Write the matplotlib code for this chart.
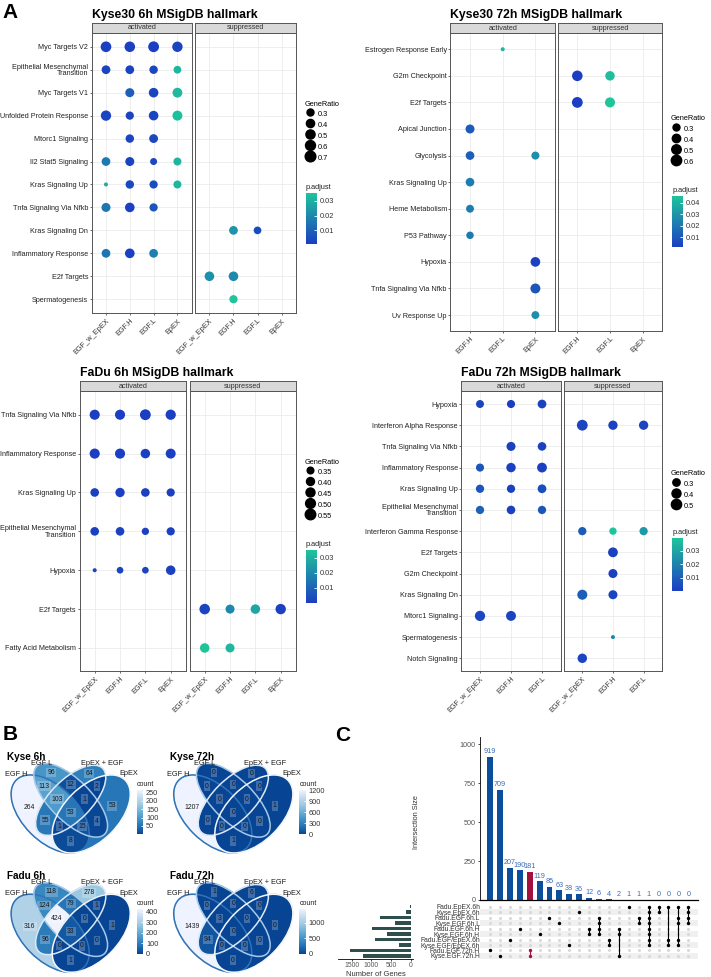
import numpy as np
import matplotlib
matplotlib.use("Agg")
import matplotlib.pyplot as plt
from matplotlib.colors import LinearSegmentedColormap, Normalize
from matplotlib.cm import ScalarMappable
from matplotlib.lines import Line2D
from matplotlib.patches import Ellipse

plt.rcParams['font.family'] = ['Liberation Sans', 'DejaVu Sans']

# ---------------- A: hallmark enrichment dot plots ----------------
# hits: (term, group, direction, GeneRatio, p.adjust)
k6_terms = ["Myc Targets V2", "Epithelial Mesenchymal\nTransition", "Myc Targets V1",
            "Unfolded Protein Response", "Mtorc1 Signaling", "Il2 Stat5 Signaling",
            "Kras Signaling Up", "Tnfa Signaling Via Nfkb", "Kras Signaling Dn",
            "Inflammatory Response", "E2f Targets", "Spermatogenesis"]
k6_groups = ["EGF_w_EpEX", "EGF.H", "EGF.L", "EpEX"]
k6_hits = [
    ("Myc Targets V2", "EGF_w_EpEX", "activated", 0.70, 0.001),
    ("Myc Targets V2", "EGF.H", "activated", 0.68, 0.001),
    ("Myc Targets V2", "EGF.L", "activated", 0.72, 0.0004),
    ("Myc Targets V2", "EpEX", "activated", 0.66, 0.002),
    ("Epithelial Mesenchymal\nTransition", "EGF_w_EpEX", "activated", 0.45, 0.002),
    ("Epithelial Mesenchymal\nTransition", "EGF.H", "activated", 0.45, 0.002),
    ("Epithelial Mesenchymal\nTransition", "EGF.L", "activated", 0.42, 0.003),
    ("Epithelial Mesenchymal\nTransition", "EpEX", "activated", 0.36, 0.032),
    ("Myc Targets V1", "EGF.H", "activated", 0.48, 0.009),
    ("Myc Targets V1", "EGF.L", "activated", 0.55, 0.002),
    ("Myc Targets V1", "EpEX", "activated", 0.58, 0.033),
    ("Unfolded Protein Response", "EGF_w_EpEX", "activated", 0.65, 0.002),
    ("Unfolded Protein Response", "EGF.H", "activated", 0.40, 0.002),
    ("Unfolded Protein Response", "EGF.L", "activated", 0.55, 0.002),
    ("Unfolded Protein Response", "EpEX", "activated", 0.60, 0.034),
    ("Mtorc1 Signaling", "EGF.H", "activated", 0.42, 0.002),
    ("Mtorc1 Signaling", "EGF.L", "activated", 0.46, 0.003),
    ("Il2 Stat5 Signaling", "EGF_w_EpEX", "activated", 0.45, 0.016),
    ("Il2 Stat5 Signaling", "EGF.H", "activated", 0.48, 0.002),
    ("Il2 Stat5 Signaling", "EGF.L", "activated", 0.30, 0.003),
    ("Il2 Stat5 Signaling", "EpEX", "activated", 0.38, 0.032),
    ("Kras Signaling Up", "EGF_w_EpEX", "activated", 0.20, 0.030),
    ("Kras Signaling Up", "EGF.H", "activated", 0.42, 0.003),
    ("Kras Signaling Up", "EGF.L", "activated", 0.40, 0.004),
    ("Kras Signaling Up", "EpEX", "activated", 0.38, 0.032),
    ("Tnfa Signaling Via Nfkb", "EGF_w_EpEX", "activated", 0.48, 0.015),
    ("Tnfa Signaling Via Nfkb", "EGF.H", "activated", 0.55, 0.001),
    ("Tnfa Signaling Via Nfkb", "EGF.L", "activated", 0.40, 0.006),
    ("Kras Signaling Dn", "EGF.H", "suppressed", 0.45, 0.023),
    ("Kras Signaling Dn", "EGF.L", "suppressed", 0.35, 0.004),
    ("Inflammatory Response", "EGF_w_EpEX", "activated", 0.45, 0.015),
    ("Inflammatory Response", "EGF.H", "activated", 0.56, 0.001),
    ("Inflammatory Response", "EGF.L", "activated", 0.45, 0.018),
    ("E2f Targets", "EGF_w_EpEX", "suppressed", 0.55, 0.022),
    ("E2f Targets", "EGF.H", "suppressed", 0.55, 0.020),
    ("Spermatogenesis", "EGF.H", "suppressed", 0.40, 0.0357),
]
k6_size_breaks = ["0.3", "0.4", "0.5", "0.6", "0.7"]
k6_p_ticks = [0.01, 0.02, 0.03]

k72_terms = ["Estrogen Response Early", "G2m Checkpoint", "E2f Targets", "Apical Junction",
             "Glycolysis", "Kras Signaling Up", "Heme Metabolism", "P53 Pathway", "Hypoxia",
             "Tnfa Signaling Via Nfkb", "Uv Response Up"]
k72_groups = ["EGF.H", "EGF.L", "EpEX"]
k72_hits = [
    ("Estrogen Response Early", "EGF.L", "activated", 0.22, 0.042),
    ("G2m Checkpoint", "EGF.H", "suppressed", 0.62, 0.001),
    ("G2m Checkpoint", "EGF.L", "suppressed", 0.50, 0.044),
    ("E2f Targets", "EGF.H", "suppressed", 0.65, 0.0012),
    ("E2f Targets", "EGF.L", "suppressed", 0.56, 0.046),
    ("Apical Junction", "EGF.H", "activated", 0.45, 0.011),
    ("Glycolysis", "EGF.H", "activated", 0.42, 0.012),
    ("Glycolysis", "EpEX", "activated", 0.37, 0.028),
    ("Kras Signaling Up", "EGF.H", "activated", 0.42, 0.022),
    ("Heme Metabolism", "EGF.H", "activated", 0.36, 0.022),
    ("P53 Pathway", "EGF.H", "activated", 0.33, 0.021),
    ("Hypoxia", "EpEX", "activated", 0.52, 0.002),
    ("Tnfa Signaling Via Nfkb", "EpEX", "activated", 0.55, 0.009),
    ("Uv Response Up", "EpEX", "activated", 0.36, 0.028),
]
k72_size_breaks = ["0.3", "0.4", "0.5", "0.6"]
k72_p_ticks = [0.01, 0.02, 0.03, 0.04]

f6_terms = ["Tnfa Signaling Via Nfkb", "Inflammatory Response", "Kras Signaling Up",
            "Epithelial Mesenchymal\nTransition", "Hypoxia", "E2f Targets", "Fatty Acid Metabolism"]
f6_groups = ["EGF_w_EpEX", "EGF.H", "EGF.L", "EpEX"]
f6_hits = [
    ("Tnfa Signaling Via Nfkb", "EGF_w_EpEX", "activated", 0.52, 0.0003),
    ("Tnfa Signaling Via Nfkb", "EGF.H", "activated", 0.52, 0.0004),
    ("Tnfa Signaling Via Nfkb", "EGF.L", "activated", 0.57, 0.0002),
    ("Tnfa Signaling Via Nfkb", "EpEX", "activated", 0.53, 0.0005),
    ("Inflammatory Response", "EGF_w_EpEX", "activated", 0.52, 0.0005),
    ("Inflammatory Response", "EGF.H", "activated", 0.52, 0.0005),
    ("Inflammatory Response", "EGF.L", "activated", 0.48, 0.0008),
    ("Inflammatory Response", "EpEX", "activated", 0.51, 0.0006),
    ("Kras Signaling Up", "EGF_w_EpEX", "activated", 0.43, 0.001),
    ("Kras Signaling Up", "EGF.H", "activated", 0.47, 0.0008),
    ("Kras Signaling Up", "EGF.L", "activated", 0.43, 0.001),
    ("Kras Signaling Up", "EpEX", "activated", 0.41, 0.001),
    ("Epithelial Mesenchymal\nTransition", "EGF_w_EpEX", "activated", 0.43, 0.001),
    ("Epithelial Mesenchymal\nTransition", "EGF.H", "activated", 0.43, 0.001),
    ("Epithelial Mesenchymal\nTransition", "EGF.L", "activated", 0.37, 0.001),
    ("Epithelial Mesenchymal\nTransition", "EpEX", "activated", 0.41, 0.001),
    ("Hypoxia", "EGF_w_EpEX", "activated", 0.31, 0.002),
    ("Hypoxia", "EGF.H", "activated", 0.35, 0.002),
    ("Hypoxia", "EGF.L", "activated", 0.35, 0.002),
    ("Hypoxia", "EpEX", "activated", 0.48, 0.001),
    ("E2f Targets", "EGF_w_EpEX", "suppressed", 0.55, 0.002),
    ("E2f Targets", "EGF.H", "suppressed", 0.45, 0.019),
    ("E2f Targets", "EGF.L", "suppressed", 0.48, 0.027),
    ("E2f Targets", "EpEX", "suppressed", 0.54, 0.001),
    ("Fatty Acid Metabolism", "EGF_w_EpEX", "suppressed", 0.48, 0.035),
    ("Fatty Acid Metabolism", "EGF.H", "suppressed", 0.45, 0.032),
]
f6_size_breaks = ["0.35", "0.40", "0.45", "0.50", "0.55"]
f6_p_ticks = [0.01, 0.02, 0.03]

f72_terms = ["Hypoxia", "Interferon Alpha Response", "Tnfa Signaling Via Nfkb",
             "Inflammatory Response", "Kras Signaling Up", "Epithelial Mesenchymal\nTransition",
             "Interferon Gamma Response", "E2f Targets", "G2m Checkpoint", "Kras Signaling Dn",
             "Mtorc1 Signaling", "Spermatogenesis", "Notch Signaling"]
f72_groups = ["EGF_w_EpEX", "EGF.H", "EGF.L"]
f72_hits = [
    ("Hypoxia", "EGF_w_EpEX", "activated", 0.33, 0.002),
    ("Hypoxia", "EGF.H", "activated", 0.34, 0.0002),
    ("Hypoxia", "EGF.L", "activated", 0.38, 0.001),
    ("Interferon Alpha Response", "EGF_w_EpEX", "suppressed", 0.55, 0.002),
    ("Interferon Alpha Response", "EGF.H", "suppressed", 0.42, 0.001),
    ("Interferon Alpha Response", "EGF.L", "suppressed", 0.42, 0.002),
    ("Tnfa Signaling Via Nfkb", "EGF.H", "activated", 0.40, 0.001),
    ("Tnfa Signaling Via Nfkb", "EGF.L", "activated", 0.37, 0.001),
    ("Inflammatory Response", "EGF_w_EpEX", "activated", 0.34, 0.007),
    ("Inflammatory Response", "EGF.H", "activated", 0.43, 0.001),
    ("Inflammatory Response", "EGF.L", "activated", 0.46, 0.001),
    ("Kras Signaling Up", "EGF_w_EpEX", "activated", 0.35, 0.007),
    ("Kras Signaling Up", "EGF.H", "activated", 0.35, 0.001),
    ("Kras Signaling Up", "EGF.L", "activated", 0.38, 0.005),
    ("Epithelial Mesenchymal\nTransition", "EGF_w_EpEX", "activated", 0.35, 0.011),
    ("Epithelial Mesenchymal\nTransition", "EGF.H", "activated", 0.37, 0.001),
    ("Epithelial Mesenchymal\nTransition", "EGF.L", "activated", 0.35, 0.007),
    ("Interferon Gamma Response", "EGF_w_EpEX", "suppressed", 0.35, 0.009),
    ("Interferon Gamma Response", "EGF.H", "suppressed", 0.30, 0.0395),
    ("Interferon Gamma Response", "EGF.L", "suppressed", 0.35, 0.027),
    ("E2f Targets", "EGF.H", "suppressed", 0.46, 0.001),
    ("G2m Checkpoint", "EGF.H", "suppressed", 0.40, 0.001),
    ("Kras Signaling Dn", "EGF_w_EpEX", "suppressed", 0.48, 0.010),
    ("Kras Signaling Dn", "EGF.H", "suppressed", 0.40, 0.002),
    ("Mtorc1 Signaling", "EGF_w_EpEX", "activated", 0.50, 0.003),
    ("Mtorc1 Signaling", "EGF.H", "activated", 0.47, 0.002),
    ("Spermatogenesis", "EGF.H", "suppressed", 0.22, 0.022),
    ("Notch Signaling", "EGF_w_EpEX", "suppressed", 0.43, 0.002),
]
f72_size_breaks = ["0.3", "0.4", "0.5"]
f72_p_ticks = [0.01, 0.02, 0.03]

# ---------------- B: Venn counts ----------------
venn_sets = ["EGF H", "EGF L", "EpEX + EGF", "EpEX"]
venn_regions = ["A", "B", "C", "D", "AB", "AC", "AD", "BC", "BD", "CD",
                "ABC", "ABD", "ACD", "BCD", "ABCD"]
kyse_6h_counts = [264, 96, 64, 53, 113, 55, 8, 12, 4, 2, 103, 15, 1, 1, 53]
kyse_72h_counts = [1207, 0, 0, 1, 0, 0, 1, 0, 0, 0, 0, 0, 0, 0, 0]
fadu_6h_counts = [316, 118, 278, 1, 124, 96, 1, 79, 0, 1, 424, 0, 0, 0, 33]
fadu_72h_counts = [1439, 1, 6, 0, 0, 94, 0, 0, 0, 0, 3, 0, 0, 0, 0]
kyse_6h_ticks = [50, 100, 150, 200, 250]
kyse_72h_ticks = [0, 300, 600, 900, 1200]
fadu_6h_ticks = [0, 100, 200, 300, 400]
fadu_72h_ticks = [0, 500, 1000]

# ---------------- C: UpSet ----------------
upset_sets = ["Fadu.EpEX.6h", "Kyse.EpEX.6h", "Fadu.EGF.6h.L", "Kyse.EGF.6h.L",
              "Fadu.EGF.6h.H", "Kyse.EGF.6h.H", "Fadu.EGF/EpEX.6h", "Kyse.EGF/EpEX.6h",
              "Fadu.EGF.72h.H", "Kyse.EGF.72h.H"]
upset_set_sizes = [36, 137, 778, 397, 994, 612, 911, 291, 1536, 1208]
upset_sizes = [919, 709, 207, 190, 181, 119, 85, 63, 38, 36, 12, 6, 4, 2, 1, 1, 1, 0, 0, 0, 0]
upset_members = [[8], [9], [6], [4], [8, 9], [5], [2], [3], [7], [1], [4, 5], [2, 3, 4, 5],
                 [6, 7], [4, 5, 9], [0], [2, 3], [0, 1, 2, 3, 4, 5, 6, 7], [0, 1], [0, 6, 7],
                 [0, 2, 3, 6, 7], [0, 1, 2, 3]]
upset_highlight = 4

# ================= drawing =================
W, H = 711, 977
fig = plt.figure(figsize=(W / 100, H / 100), dpi=100)


def add_ax(x0, y0, x1, y1):
    return fig.add_axes([x0 / W, 1 - y1 / H, (x1 - x0) / W, (y1 - y0) / H])


def ftext(x, y, s, **kw):
    return fig.text(x / W, 1 - y / H, s, **kw)


padj_cmap = LinearSegmentedColormap.from_list("padj", ["#1B3EC2", "#1FC49B"])


def dot_px(v, lo, hi):
    t = np.clip((np.asarray(v, float) - lo) / (hi - lo), 0, 1)
    return 4.05 + 6.75 * np.sqrt(t)


def dotplot(title, terms, groups, hits, size_breaks, p_ticks, lay):
    (xa0, xa1, xs0, xs1, ystrip, ytop, ybot, lx, ly, cx, cy0, cy1) = lay
    ratios = [h[3] for h in hits]
    pvals = [h[4] for h in hits]
    lo, hi = min(ratios), max(ratios)
    norm = Normalize(min(pvals), max(pvals))
    for facet, (x0, x1) in zip(["activated", "suppressed"], [(xa0, xa1), (xs0, xs1)]):
        ax = add_ax(x0, ytop, x1, ybot)
        sub = [h for h in hits if h[2] == facet]
        if sub:
            ax.scatter([groups.index(h[1]) for h in sub], [terms.index(h[0]) for h in sub],
                       s=(dot_px([h[3] for h in sub], lo, hi) * 0.72) ** 2,
                       c=[h[4] for h in sub], cmap=padj_cmap, norm=norm,
                       linewidths=0, zorder=3)
        ax.set_xlim(-0.6, len(groups) - 0.4)
        ax.set_ylim(len(terms) - 0.4, -0.6)
        ax.set_xticks(range(len(groups)))
        ax.set_xticklabels(groups, rotation=45, ha='right', rotation_mode='anchor',
                           fontsize=5.3, color='#333333')
        ax.set_yticks(range(len(terms)))
        if facet == "activated":
            ax.set_yticklabels(terms, fontsize=5.2, color='#222222', linespacing=0.9)
            ax.tick_params(axis='y', length=1.6, width=0.5, color='#333333', pad=1)
        else:
            ax.set_yticklabels([])
            ax.tick_params(axis='y', length=0)
        ax.tick_params(axis='x', length=1.6, width=0.5, color='#333333', pad=1.5)
        ax.grid(True, color='#EBEBEB', lw=0.6)
        ax.set_axisbelow(True)
        for sp in ax.spines.values():
            sp.set_color('#555555')
            sp.set_linewidth(0.7)
        st = add_ax(x0, ystrip, x1, ytop)
        st.set_facecolor('#D9D9D9')
        st.set_xticks([])
        st.set_yticks([])
        for sp in st.spines.values():
            sp.set_color('#555555')
            sp.set_linewidth(0.7)
        st.text(0.5, 0.5, facet, ha='center', va='center', fontsize=5.2,
                color='#333333', transform=st.transAxes)
    ftext(xa0, ystrip - 5, title, fontsize=8.8, fontweight='bold', va='baseline')

    handles = [Line2D([], [], ls='', marker='o', color='black',
                      markersize=float(dot_px(float(b), lo, hi)) * 0.72) for b in size_breaks]
    fig.legend(handles, size_breaks, title='GeneRatio', loc='upper left',
               bbox_to_anchor=(lx / W, 1 - ly / H), frameon=False, fontsize=5.3,
               title_fontsize=5.3, borderpad=0, borderaxespad=0, handletextpad=0.3,
               labelspacing=0.05, handleheight=1.85, handlelength=1.4,
               alignment='left')
    cax = add_ax(cx, cy0, cx + 10.5, cy1)
    cb = fig.colorbar(ScalarMappable(norm=norm, cmap=padj_cmap), cax=cax, ticks=p_ticks)
    cb.outline.set_visible(False)
    cax.tick_params(labelsize=5.3, length=2, width=0.6, color='white',
                    direction='in', pad=2, labelcolor='#333333')
    ftext(cx, cy0 - 2, 'p.adjust', fontsize=5.3, va='bottom', color='#222222')


dotplot("Kyse30 6h MSigDB hallmark", k6_terms, k6_groups, k6_hits, k6_size_breaks,
        k6_p_ticks, (91.7, 191.7, 195, 296, 22.7, 33, 313, 305, 100.5, 306, 192.7, 244))
dotplot("Kyse30 72h MSigDB hallmark", k72_terms, k72_groups, k72_hits, k72_size_breaks,
        k72_p_ticks, (450.4, 555, 557.7, 662.3, 22.7, 33.3, 331, 671, 115.5, 672.3, 196, 247.3))
dotplot("FaDu 6h MSigDB hallmark", f6_terms, f6_groups, f6_hits, f6_size_breaks,
        f6_p_ticks, (79.5, 185.9, 189.5, 295.9, 381, 391.4, 671.3, 305, 459, 306, 550, 602.7))
dotplot("FaDu 72h MSigDB hallmark", f72_terms, f72_groups, f72_hits, f72_size_breaks,
        f72_p_ticks, (461.4, 560.6, 563.9, 662, 381, 391.3, 671, 671, 470.5, 672.3, 538.3, 590.7))

# ---------------- Venn diagrams ----------------
ELLIPSES = [(0.35, 0.47, 0.35, 0.20, 135), (0.50, 0.57, 0.35, 0.15, 135),
            (0.50, 0.57, 0.33, 0.15, 45), (0.65, 0.47, 0.35, 0.20, 45)]
EDGE_COLORS = ['#2F74B8', '#A6C9E8', '#DCE9F6', '#F4F8FC']
SET_LABEL_POS = [(0.10, 0.757), (0.29, 0.838), (0.73, 0.838), (0.925, 0.762)]
venn_cmap = LinearSegmentedColormap.from_list(
    "venn", ["#084594", "#2171B5", "#4292C6", "#6BAED6", "#9ECAE1", "#C6DBEF", "#EFF3FF"])
GX, GY = np.meshgrid(np.linspace(0, 1, 700), np.linspace(0.15, 0.87, 504))


def in_ellipse(cx, cy, a, b, rot):
    t = np.deg2rad(rot)
    dx, dy = GX - cx, GY - cy
    u = dx * np.cos(t) + dy * np.sin(t)
    v = -dx * np.sin(t) + dy * np.cos(t)
    return (u / a) ** 2 + (v / b) ** 2 <= 1


REGION_CODE = sum(in_ellipse(*e).astype(int) << k for k, e in enumerate(ELLIPSES))


def venn(title, counts, ticks, x0, y0):
    ax = add_ax(x0, y0, x0 + 137, y0 + 98.6)
    norm = Normalize(min(counts), max(counts))
    img = np.zeros(GX.shape + (4,))
    for reg, n in zip(venn_regions, counts):
        sel = REGION_CODE == sum(1 << "ABCD".index(ch) for ch in reg)
        img[sel] = venn_cmap(norm(n))
        ax.text(GX[sel].mean(), GY[sel].mean(), str(n), ha='center', va='center',
                fontsize=4.9, color='#1A1A1A', zorder=5,
                bbox=dict(boxstyle='square,pad=0.18', fc='white', ec='none', alpha=0.22))
    ax.imshow(img, extent=(0, 1, 0.15, 0.87), origin='lower', aspect='auto', zorder=1)
    for (cx, cy, a, b, rot), ec in zip(ELLIPSES, EDGE_COLORS):
        ax.add_patch(Ellipse((cx, cy), 2 * a, 2 * b, angle=rot, fill=False, ec=ec,
                             lw=1.1, zorder=3))
    for (lx, ly), name in zip(SET_LABEL_POS, venn_sets):
        ax.text(lx, ly, name, ha='center', va='center', fontsize=5.3, color='#1A1A1A', zorder=6)
    ax.set_xlim(0, 1)
    ax.set_ylim(0.15, 0.87)
    ax.axis('off')
    ftext(x0 + 5, y0 - 2.5, title, fontsize=7.2, fontweight='bold', va='center')
    cax = add_ax(x0 + 134.5, y0 + 30.8, x0 + 141, y0 + 75)
    cb = fig.colorbar(ScalarMappable(norm=norm, cmap=venn_cmap), cax=cax, ticks=ticks)
    cb.outline.set_visible(False)
    cax.tick_params(labelsize=5.3, length=1.8, width=0.6, color='white',
                    direction='in', pad=2, labelcolor='#333333')
    ftext(x0 + 134.5, y0 + 28.5, 'count', fontsize=5.1, va='bottom', color='#222222')


venn("Kyse 6h", kyse_6h_counts, kyse_6h_ticks, 2.2, 759.2)
venn("Kyse 72h", kyse_72h_counts, kyse_72h_ticks, 164.8, 759.2)
venn("Fadu 6h", fadu_6h_counts, fadu_6h_ticks, 2.2, 878.5)
venn("Fadu 72h", fadu_72h_counts, fadu_72h_ticks, 164.8, 878.5)

# ---------------- UpSet plot ----------------
n_int = len(upset_sizes)
bar_cols = ['#A3123F' if j == upset_highlight else '#0B4F9C' for j in range(n_int)]
axb = add_ax(480, 736.7, 698.3, 900)
axb.bar(range(n_int), upset_sizes, width=0.6, color=bar_cols)
for j, v in enumerate(upset_sizes):
    axb.annotate(str(v), (j, v), xytext=(0, 1.2), textcoords='offset points',
                 ha='center', va='bottom', fontsize=5.2, color='#3A6DB3')
axb.set_xlim(-1.01, n_int + 0.01)
axb.set_ylim(0, 1050)
axb.set_xticks([])
axb.set_yticks([0, 250, 500, 750, 1000])
axb.tick_params(axis='y', labelsize=5.2, labelcolor='#555555', length=1.5, width=0.5, pad=1.5)
for s in ['top', 'right']:
    axb.spines[s].set_visible(False)
axb.spines['left'].set_linewidth(0.6)
axb.spines['bottom'].set_linewidth(0.9)
ftext(416, 821.7, 'Intersection Size', rotation=90, ha='center', va='center',
      fontsize=5.3, color='#333333')

axm = add_ax(480, 903.9, 698.3, 958.7)
n_sets = len(upset_sets)
for i in range(n_sets):
    if i % 2 == 1:
        axm.axhspan(i - 0.5, i + 0.5, color='#F0F0F0', lw=0, zorder=0)
for j, mem in enumerate(upset_members):
    axm.scatter([j] * n_sets, range(n_sets), s=5.0, color='#D9D9D9', lw=0, zorder=1)
    col = '#A3123F' if j == upset_highlight else 'black'
    if len(mem) > 1:
        axm.plot([j, j], [min(mem), max(mem)], color=col, lw=0.8, zorder=2)
    axm.scatter([j] * len(mem), mem, s=6.0, color=col, lw=0, zorder=3)
axm.set_xlim(-1.01, n_int + 0.01)
axm.set_ylim(n_sets - 0.5, -0.5)
axm.set_xticks([])
axm.set_yticks(range(n_sets))
axm.set_yticklabels(upset_sets, fontsize=4.9, color='#333333')
axm.tick_params(axis='y', length=0, pad=0)
for sp in axm.spines.values():
    sp.set_visible(False)

axs = add_ax(338.3, 903.9, 412.7, 958.7)
axs.barh(range(n_sets), upset_set_sizes, height=0.62, color='#2F4F4F')
axs.set_ylim(n_sets - 0.5, -0.5)
axs.set_xlim(1839, -43)
axs.set_yticks([])
axs.set_xticks([1500, 1000, 500, 0])
axs.tick_params(axis='x', labelsize=4.9, labelcolor='#555555', length=1.5, width=0.5, pad=1)
for s in ['top', 'right', 'left']:
    axs.spines[s].set_visible(False)
axs.spines['bottom'].set_linewidth(0.6)
axs.set_xlabel('Number of Genes', fontsize=5.4, color='#333333', labelpad=1)

# panel letters
ftext(2, 18, 'A', fontsize=15, fontweight='bold', va='baseline')
ftext(3, 740, 'B', fontsize=15, fontweight='bold', va='baseline')
ftext(335, 741, 'C', fontsize=15, fontweight='bold', va='baseline')

fig.savefig('out.png', dpi=100, facecolor='white')
